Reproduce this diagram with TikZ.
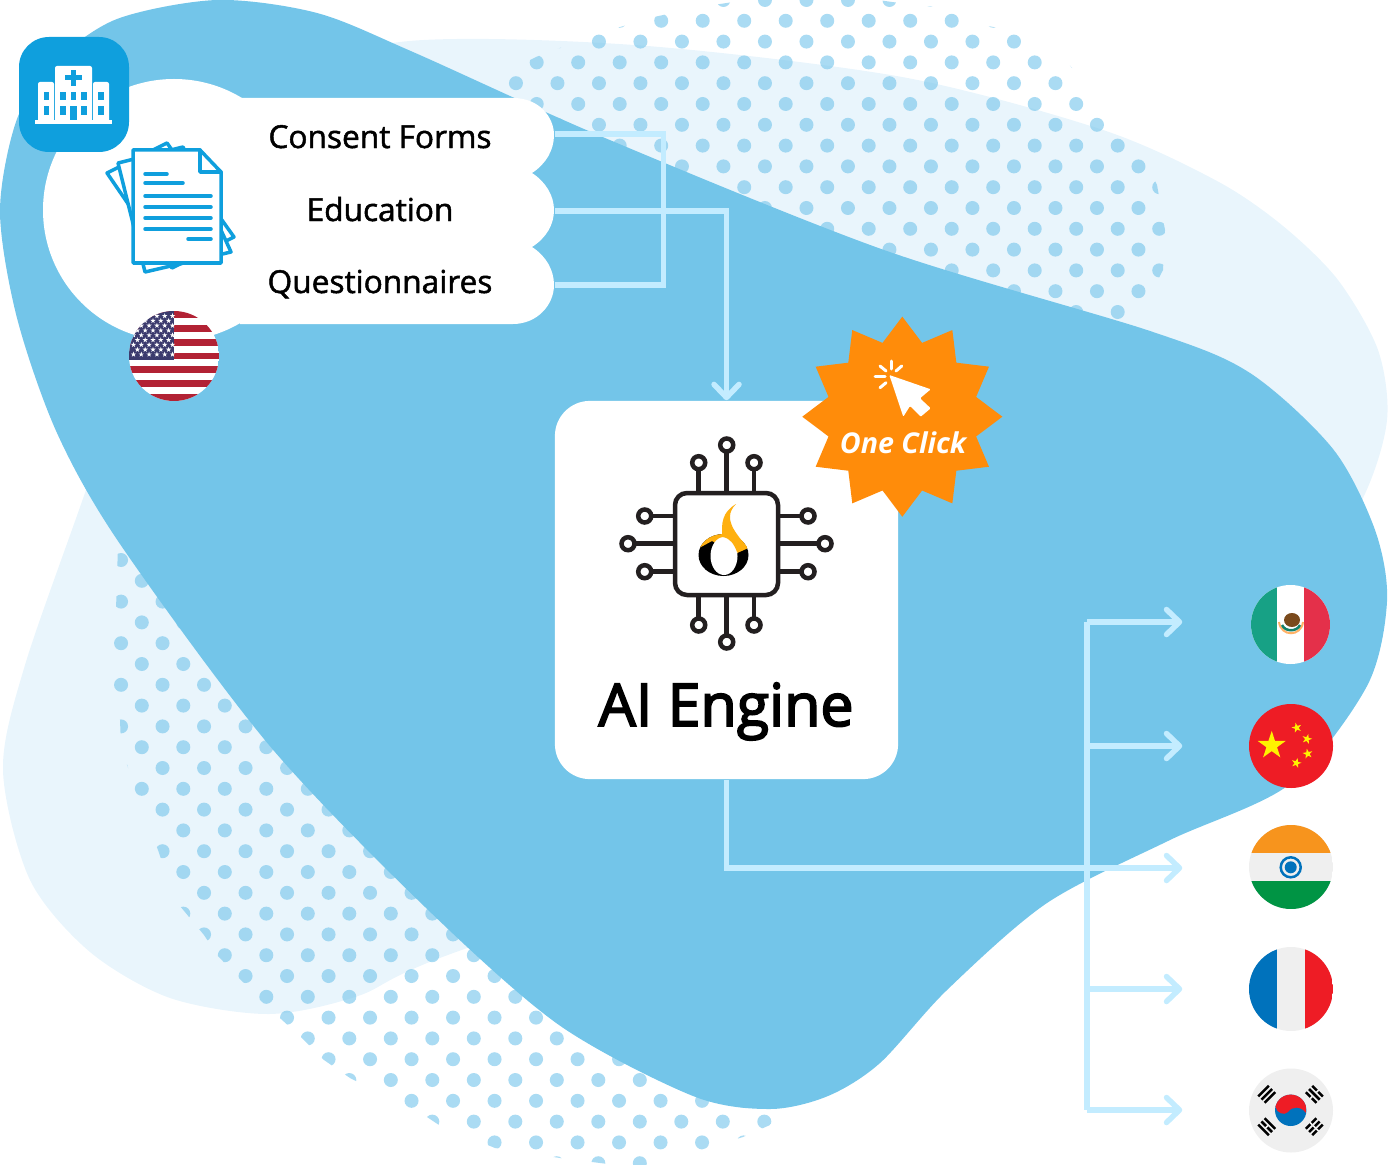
\documentclass[tikz,border=0pt]{standalone}
\usepackage{fontspec}
\setmainfont{Open Sans}
\newfontface\enginefont{Open Sans}[FakeBold=3]
\newfontface\formfont{Open Sans}[FakeBold=1.5]
\usetikzlibrary{arrows.meta,shapes.geometric}
\definecolor{blobblue}{HTML}{73C5E9}
\definecolor{paleblue}{HTML}{E9F5FC}
\definecolor{dotblue}{HTML}{7CC8EC}
\definecolor{wireblue}{HTML}{C3ECFF}
\definecolor{tileblue}{HTML}{0F9FDD}
\definecolor{burstorange}{HTML}{FF8C0A}
\definecolor{chipdark}{HTML}{231F20}
\definecolor{flamegold}{HTML}{FFB00F}
\definecolor{flaggrey}{HTML}{EFEFEF}
\definecolor{flagred}{HTML}{EE1C25}
\definecolor{flagblue}{HTML}{0072BC}
\definecolor{usred}{HTML}{B22234}
\definecolor{usblue}{HTML}{3C3B6E}
\definecolor{mexgreen}{HTML}{17A185}
\definecolor{mexred}{HTML}{E4304A}
\definecolor{mexbrown}{HTML}{7A4A1C}
\definecolor{chinayellow}{HTML}{FFF200}
\definecolor{indiaorange}{HTML}{F7941D}
\definecolor{indiagreen}{HTML}{009444}
\tikzset{
	wire/.style={draw=wireblue,line width=0.055cm},
	wirearrow/.style={wire,-{Straight Barb[length=0.13cm,width=0.25cm,round]}},
	flagnode/.style={circle,minimum size=0.84cm,inner sep=0pt},
	formtext/.style={minimum width=3.48cm,inner sep=0pt,text depth=0.08cm,font=\fontsize{9}{11}\formfont},
	chipline/.style={draw=chipdark,line width=0.045cm},
	docline/.style={draw=tileblue,line width=0.035cm,line cap=round,line join=round},
	dotclip/.style={fill=dotblue,opacity=0.65}
}
\def\chippin(#1,#2)(#3,#4){\draw[chipline] (#1,#2) -- (#3,#4); \draw[chipline,fill=white] (#3,#4) circle (6.5);}
\def\starat(#1,#2,#3,#4)[#5]{\fill[#5,shift={(#1,#2)},rotate=#4] (0,0) +(-90:#3) -- +(-54:{0.382*#3}) -- +(-18:#3) -- +(18:{0.382*#3}) -- +(54:#3) -- +(90:{0.382*#3}) -- +(126:#3) -- +(162:{0.382*#3}) -- +(198:#3) -- +(234:{0.382*#3}) -- cycle;}
\def\trigram(#1,#2,#3)[#4,#5,#6]{\begin{scope}[shift={(#1,#2)},rotate=#3]
	\foreach \barpos/\barcut in {-4.5/#4,0/#5,4.5/#6} {
		\draw[black,line width=0.025cm] (-7.5,\barpos) -- (7.5,\barpos);
		\ifnum\barcut=1 \draw[flaggrey,line width=0.04cm] (-0.8,\barpos) -- (0.8,\barpos); \fi
	}
\end{scope}}

\begin{document}
\begin{tikzpicture}[x=0.01cm,y=-0.01cm]
	\path[use as bounding box,clip] (0,0) rectangle (1389,1164);
	
	\fill[paleblue] plot[smooth cycle] coordinates {(400,42) (634,45) (902,77) (1103,130) (1217,181) (1283,226) (1338,280) (1378,350) (1387,420) (1363,498) (1300,600) (900,800) (456,952) (358,996) (269,1014) (170,998) (90,952) (30,880) (3,770) (25,665) (87,487) (150,300) (280,90)};
	
	\begin{scope}
		\clip (480,85) -- (536,57) -- (600,33) -- (654,17) -- (700,7) -- (760,-2) -- (830,-7) -- (892,2) -- (960,10) -- (982,25) -- (1022,32) -- (1065,60) -- (1100,100) -- (1135,140) -- (1157,185) -- (1165,230) -- (1163,270) -- (1150,295) -- (1130,320) -- (1148,342) -- (900,340) -- cycle;
		\foreach \k in {0,...,16} {
			\foreach \n in {-6,...,11} {
				\pgfmathsetmacro{\dotx}{702.7+41.5*\n+20.75*mod(\k+1,2)}
				\fill[dotclip] (\dotx,20.8*\k) circle (7);
			}
		}
	\end{scope}
	\begin{scope}
		\clip (118,545) -- (116,610) -- (113,650) -- (113,690) -- (120,720) -- (121,745) -- (135,790) -- (158,850) -- (175,900) -- (204,935) -- (218,956) -- (238,977) -- (260,1000) -- (281,1019) -- (303,1039) -- (324,1060) -- (350,1078) -- (427,1117) -- (439,1125) -- (495,1148) -- (560,1158) -- (640,1168) -- (700,1150) -- (743,1137) -- (770,1125) -- (785,1105) -- (800,600) -- cycle;
		\foreach \k in {0,...,29} {
			\foreach \n in {-1,...,17} {
				\pgfmathsetmacro{\dotx}{141.8+41.5*\n+20.75*mod(\k+1,2)}
				\fill[dotclip] (\dotx,560+20.8*\k) circle (7);
			}
		}
	\end{scope}
	
	\fill[blobblue] plot[smooth cycle] coordinates {(217,0) (317,13) (413,52) (605,138) (884,250) (1150,331) (1250,373) (1333,449) (1375,530) (1387,601) (1367,686) (1290,784) (1170,840) (1047,903) (947,990) (880,1063) (828,1096) (770,1109) (693,1096) (559,1025) (425,907) (269,745) (120,544) (57,433) (17,318) (0,211) (17,119) (55,62) (117,19)};
	
	\fill[white] (174,210) circle (131);
	\fill[white] (240,98) -- (513,98) .. controls (540,98) and (554,118) .. (554,135) .. controls (554,150) and (546,164) .. (532,173) .. controls (546,182) and (554,196) .. (554,210) .. controls (554,225) and (546,238) .. (532,247) .. controls (546,256) and (554,270) .. (554,285) .. controls (554,305) and (537,324) .. (513,324) -- (240,324) -- cycle;
	
	\node[formtext,text height=0.36cm] (consent) at (380,134) {Consent Forms};
	\node[formtext,text height=0.28cm] (education) at (380,211) {Education};
	\node[formtext,text height=0.24cm] (questionnaires) at (380,285) {Questionnaires};
	\node[fill=white,rounded corners=0.35cm,minimum width=3.43cm,minimum height=3.78cm,inner sep=0pt] (engine) at (726.5,590) {};
	\node[anchor=base,font=\fontsize{16.8}{20}\enginefont] (enginetext) at (726,726) {AI Engine};
	
	\node[flagnode] (mexico) at (1291,622) {};
	\node[flagnode] (china) at (1291,746) {};
	\node[flagnode] (india) at (1291,868) {};
	\node[flagnode] (france) at (1291,989) {};
	\node[flagnode] (korea) at (1291,1110) {};
	\coordinate (formsbend) at (663.5,210);
	\coordinate (bus) at (1087,868);
	
	\draw[wire] (consent.east) -| (formsbend) |- (questionnaires.east);
	\draw[wirearrow] (education.east) -| (engine.north);
	\draw[wirearrow,shorten >=0.66cm] (engine.south) |- (india.west);
	\draw[wire] (bus |- mexico) -- (bus |- korea);
	\draw[wirearrow,shorten >=0.66cm] (bus |- mexico) -- (mexico.west);
	\draw[wirearrow,shorten >=0.66cm] (bus |- china) -- (china.west);
	\draw[wirearrow,shorten >=0.66cm] (bus |- france) -- (france.west);
	\draw[wirearrow,shorten >=0.66cm] (bus |- korea) -- (korea.west);
	
	\fill[tileblue,rounded corners=0.3cm] (19,37) rectangle (129,152);
	\fill[white,rounded corners=0.02cm] (55,66) rectangle (92,122);
	\fill[white,rounded corners=0.02cm] (38,82) rectangle (54,122);
	\fill[white,rounded corners=0.02cm] (93,82) rectangle (109,122);
	\fill[white] (35,120) rectangle (112,124);
	\fill[tileblue] (71,70) rectangle (76,86);
	\fill[tileblue] (65,75.5) rectangle (82,80.5);
	\fill[tileblue] (43.5,92) rectangle (49,100);
	\fill[tileblue] (43.5,106) rectangle (49,115);
	\fill[tileblue] (98,92) rectangle (104,100);
	\fill[tileblue] (98,106) rectangle (104,115);
	\fill[tileblue] (60,92) rectangle (66,100);
	\fill[tileblue] (60,106) rectangle (66,115);
	\fill[tileblue] (71,92) rectangle (76,100);
	\fill[tileblue] (81,92) rectangle (87,100);
	\fill[tileblue] (81,106) rectangle (87,115);
	\fill[tileblue] (70,106) rectangle (77,120);
	
	\draw[docline,fill=white] (107,173) -- (167,143) -- (234,237) -- (172,268) -- cycle;
	\draw[docline,fill=white] (118,163) -- (183,147) -- (231,252) -- (145,272) -- cycle;
	\draw[docline,fill=white] (133,150) -- (200,150) -- (221,172) -- (221,263) -- (133,263) -- cycle;
	\draw[docline] (200,150) -- (200,172) -- (221,172);
	\draw[docline] (145,174) -- (167,174);
	\draw[docline] (145,183) -- (183,183);
	\draw[docline] (145,196) -- (211,196);
	\draw[docline] (145,207) -- (211,207);
	\draw[docline] (145,218) -- (211,218);
	\draw[docline] (145,229) -- (211,229);
	\draw[docline] (188,239) -- (211,239);
	
	\begin{scope}
		\clip (174,356) circle (45);
		\fill[white] (129,311) rectangle (219,401);
		\foreach \k in {0,2,...,12} {
			\fill[usred] (129,311+6.92*\k) rectangle (219,311+6.92*\k+6.92);
		}
		\fill[usblue] (129,311) rectangle (174,359.5);
		\foreach \k in {0,...,4} {
			\foreach \n in {0,...,5} {
				\starat(133.5+7.8*\n,316+9.6*\k,2.8,0)[white]
			}
		}
		\foreach \k in {0,...,3} {
			\foreach \n in {0,...,4} {
				\starat(137.4+7.8*\n,320.8+9.6*\k,2.8,0)[white]
			}
		}
	\end{scope}
	
	\node[star,star points=12,star point ratio=1.31,minimum size=2cm,inner sep=0pt,fill=burstorange] (burst) at (902.3,416.7) {};
	\fill[white,rounded corners=0.01cm] (889.3,375) -- (930.7,389.3) -- (920,398.3) -- (930.7,408.3) -- (920.7,416.7) -- (910,406) -- (903.3,416.7) -- cycle;
	\draw[white,line width=0.03cm,line cap=round] (891,361) -- (891,369);
	\draw[white,line width=0.03cm,line cap=round] (901.7,366) -- (896,371);
	\draw[white,line width=0.03cm,line cap=round] (880,366) -- (886,371);
	\draw[white,line width=0.03cm,line cap=round] (875,376.7) -- (885,376.7);
	\draw[white,line width=0.03cm,line cap=round] (880,387.7) -- (886,382.7);
	\node[text=white,font=\fontsize{8.15}{10}\selectfont\bfseries\itshape] (clicktext) at (903,443) {One Click};
	
	\chippin(698.7,493)(698.7,462.7)
	\chippin(726.7,493)(726.7,445)
	\chippin(754,493)(754,462.7)
	\chippin(698.7,595)(698.7,625)
	\chippin(726.7,595)(726.7,642)
	\chippin(754,595)(754,625)
	\chippin(675,516)(644.7,516)
	\chippin(675,543.7)(628,543.7)
	\chippin(675,571.7)(644.7,571.7)
	\chippin(778,516)(808,516)
	\chippin(778,543.7)(825,543.7)
	\chippin(778,571.7)(808,571.7)
	\draw[chipline,rounded corners=0.12cm] (675,493) rectangle (778,595);
	
	\fill[black] (723.5,555) ellipse (25 and 21);
	\begin{scope}
		\clip (690,553) -- (712,541) -- (735,554) -- (755,545) -- (755,500) -- (690,500) -- cycle;
		\fill[flamegold] (723.5,555) ellipse (25 and 21);
	\end{scope}
	\fill[white] (724,556) ellipse (13.5 and 19);
	\fill[flamegold] (722.5,537) .. controls (721,524) and (722,512) .. (736,504) .. controls (728,512) and (729,520) .. (733,528) .. controls (737,535) and (742,541) .. (747,547) -- (737,552) .. controls (734,544) and (730,538) .. (722.5,537) -- cycle;
	
	\begin{scope}
		\clip (1290.5,624.5) circle (39.5);
		\fill[white] (1250,584) rectangle (1331,665);
		\fill[mexgreen] (1250,584) rectangle (1277.3,665);
		\fill[mexred] (1304,584) rectangle (1331,665);
		\fill[mexbrown] (1292,620) ellipse (8 and 7);
		\draw[orange!60!white,line width=0.02cm] (1279,622) .. controls (1281,637) and (1301,637) .. (1303,622);
		\draw[mexgreen!80!black,line width=0.025cm] (1282,625) .. controls (1285,632) and (1297,632) .. (1300,625);
	\end{scope}
	
	\fill[flagred] (1291,746) circle (42);
	\starat(1271.7,745.5,14.7,0)[chinayellow]
	\starat(1296.7,727.7,5.2,15)[chinayellow]
	\starat(1307,739,5.2,-15)[chinayellow]
	\starat(1307.7,753.7,5.2,10)[chinayellow]
	\starat(1296.3,763,5.2,-15)[chinayellow]
	
	\begin{scope}
		\clip (1291,867) circle (42);
		\fill[flaggrey] (1249,825) rectangle (1333,909);
		\fill[indiaorange] (1249,825) rectangle (1333,853.3);
		\fill[indiagreen] (1249,881.3) rectangle (1333,909);
	\end{scope}
	\draw[flagblue,line width=0.025cm] (1290.7,867.3) circle (10);
	\fill[flagblue] (1290.7,867.3) circle (6);
	
	\begin{scope}
		\clip (1291,989) circle (42);
		\fill[flaggrey] (1249,947) rectangle (1333,1031);
		\fill[flagblue] (1249,947) rectangle (1276.7,1031);
		\fill[flagred] (1305,947) rectangle (1333,1031);
	\end{scope}
	
	\fill[flaggrey] (1291,1110.5) circle (42);
	\begin{scope}
		\clip (1290.7,1110.3) circle (15.7);
		\fill[flagblue] (1274,1094) rectangle (1308,1127);
		\fill[flagred] (1275.5,1107) .. controls (1277,1113) and (1284,1116) .. (1288,1112) .. controls (1292,1106) and (1301,1106) .. (1306,1113) -- (1308,1094) -- (1274,1094) -- cycle;
	\end{scope}
	\trigram(1266.7,1094.3,45)[0,0,0]
	\trigram(1314.3,1094.3,-45)[1,0,1]
	\trigram(1266.7,1126.7,-45)[0,1,0]
	\trigram(1314.3,1126.7,45)[1,1,1]
\end{tikzpicture}
\end{document}
